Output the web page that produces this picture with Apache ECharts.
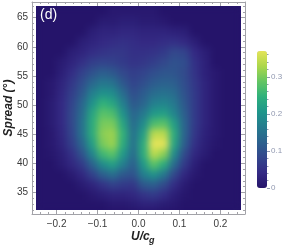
<!DOCTYPE html>
<html><head><meta charset="utf-8">
<script src="https://cdn.jsdelivr.net/npm/echarts@6/dist/echarts.min.js"></script>
<style>
html,body{margin:0;padding:0;background:#fff;}
#root{position:relative;width:286px;height:249px;overflow:hidden;}
#heatClip{position:absolute;left:36px;top:6px;width:205px;height:204px;overflow:hidden;}
#heat{position:absolute;left:0;top:0;width:205px;height:204px;filter:blur(3.5px);}
#axes{position:absolute;left:0;top:0;width:286px;height:249px;}
</style></head><body>
<div id="root"><div id="heatClip"><div id="heat"></div></div><div id="axes"></div></div>
<script>
// U/c_g cell centres
const uCenters = [-0.2375,-0.2125,-0.1875,-0.1625,-0.1375,-0.1125,-0.0875,-0.0625,-0.0375,-0.0125,
                   0.0125, 0.0375, 0.0625, 0.0875, 0.1125, 0.1375, 0.1625, 0.1875, 0.2125, 0.2375];
// Spread cell centres (deg), bottom to top
const spreadCenters = [32.875,34.625,36.375,38.125,39.875,41.625,43.375,45.125,46.875,48.625,
                       50.375,52.125,53.875,55.625,57.375,59.125,60.875,62.625,64.375,66.125];
// density, one row per spread centre (bottom to top), one value per U/c_g centre
const density = [
 [0,0,0,0,0,0,0,0.01,0.01,0.015,0.025,0.025,0.015,0.01,0,0,0,0,0,0],
 [0,0,0,0,0,0.01,0.02,0.03,0.03,0.035,0.055,0.065,0.045,0.02,0.005,0,0,0,0,0],
 [0,0,0,0,0.015,0.03,0.055,0.075,0.065,0.06,0.11,0.12,0.09,0.045,0.015,0,0,0,0,0],
 [0,0,0,0.015,0.035,0.075,0.12,0.145,0.11,0.1,0.17,0.2,0.16,0.085,0.035,0.01,0,0,0,0],
 [0,0,0.015,0.035,0.065,0.125,0.19,0.22,0.17,0.12,0.21,0.28,0.24,0.14,0.065,0.02,0,0,0,0],
 [0,0.005,0.02,0.05,0.1,0.18,0.26,0.28,0.21,0.14,0.24,0.34,0.31,0.19,0.09,0.035,0.015,0,0,0],
 [0,0.01,0.03,0.07,0.13,0.22,0.3,0.32,0.24,0.15,0.24,0.37,0.37,0.23,0.12,0.05,0.02,0.005,0,0],
 [0,0.01,0.035,0.08,0.15,0.24,0.31,0.32,0.25,0.15,0.22,0.34,0.34,0.24,0.13,0.06,0.025,0.01,0,0],
 [0,0.015,0.04,0.085,0.15,0.24,0.3,0.3,0.23,0.14,0.19,0.27,0.28,0.22,0.13,0.065,0.03,0.01,0,0],
 [0,0.015,0.04,0.085,0.14,0.23,0.28,0.27,0.2,0.13,0.16,0.21,0.22,0.18,0.12,0.065,0.03,0.01,0,0],
 [0,0.015,0.04,0.08,0.13,0.2,0.25,0.23,0.17,0.11,0.13,0.17,0.18,0.16,0.11,0.065,0.03,0.01,0,0],
 [0,0.01,0.035,0.07,0.11,0.17,0.2,0.19,0.14,0.095,0.115,0.14,0.15,0.14,0.1,0.065,0.03,0.01,0,0],
 [0,0.01,0.03,0.06,0.095,0.135,0.16,0.15,0.11,0.08,0.095,0.115,0.125,0.12,0.095,0.06,0.03,0.01,0,0],
 [0,0,0.02,0.045,0.075,0.1,0.12,0.11,0.085,0.07,0.08,0.095,0.105,0.105,0.09,0.055,0.025,0.01,0,0],
 [0,0,0.015,0.03,0.05,0.07,0.08,0.075,0.065,0.055,0.06,0.07,0.085,0.1,0.095,0.05,0.025,0,0,0],
 [0,0,0,0.02,0.03,0.045,0.055,0.06,0.06,0.05,0.05,0.055,0.065,0.085,0.08,0.04,0.02,0,0,0],
 [0,0,0,0,0.02,0.03,0.04,0.045,0.05,0.045,0.04,0.04,0.045,0.05,0.04,0.02,0,0,0,0],
 [0,0,0,0,0,0.02,0.03,0.03,0.035,0.035,0.03,0.03,0.03,0.025,0.02,0,0,0,0,0],
 [0,0,0,0,0,0,0.015,0.015,0.02,0.02,0.015,0.015,0.01,0,0,0,0,0,0,0],
 [0,0,0,0,0,0,0,0.01,0.01,0.01,0.01,0.01,0,0,0,0,0,0,0,0]
];
const xMajor = [-0.2,-0.1,0,0.1,0.2];
const xMinor = [-0.24,-0.22,-0.18,-0.16,-0.14,-0.12,-0.08,-0.06,-0.04,-0.02,0.02,0.04,0.06,0.08,0.12,0.14,0.16,0.18,0.22,0.24];
const yMajor = [35,40,45,50,55,60,65];
const yMinor = [32,33,34,36,37,38,39,41,42,43,44,46,47,48,49,51,52,53,54,56,57,58,59,61,62,63,64,66,67];
const cbMajor = [0,0.1,0.2,0.3];
const cbMinor = [0.02,0.04,0.06,0.08,0.12,0.14,0.16,0.18,0.22,0.24,0.26,0.28,0.32,0.34,0.36];
const densityMax = 0.37;

const palette = ['#25146a','#342a84','#33468c','#2c618e','#257b8e','#1f968b','#2eb07c','#64c663','#acd74b','#e4e459'];
document.getElementById('heatClip').style.background = palette[0];

const heatData = [];
density.forEach((row, j) => row.forEach((v, i) => heatData.push([i, j, v])));

const heat = echarts.init(document.getElementById('heat'), null, {renderer:'canvas'});
heat.setOption({
  animation:false,
  backgroundColor: palette[0],
  grid:{left:0,right:0,top:0,bottom:0},
  xAxis:{type:'category', data:uCenters, show:false},
  yAxis:{type:'category', data:spreadCenters, show:false},
  visualMap:{show:false, min:0, max:densityMax, inRange:{color:palette}},
  series:[{type:'heatmap', data:heatData, itemStyle:{borderWidth:0}}]
});

const frameColor = '#a2a2a8';
const font = 'Liberation Sans, Arial, sans-serif';
const fmt = v => (v < 0 ? '\u2212' : '') + Math.abs(v).toFixed(1);
function xa(pos, ticks, len, line, label){
  return {gridIndex:0, type:'value', position:pos, min:-0.26, max:0.26,
    axisLine:{show:line, onZero:false, lineStyle:{color:frameColor, width:1}},
    axisTick:{show:true, inside:true, length:len, customValues:ticks, lineStyle:{color:frameColor}},
    axisLabel:{show:label, customValues:ticks, formatter:fmt, color:'#3a3a3a', fontSize:10, fontFamily:font, margin:5},
    splitLine:{show:false}};
}
function ya(pos, ticks, len, line, label){
  return {gridIndex:0, type:'value', position:pos, min:31.32, max:67.68,
    axisLine:{show:line, onZero:false, lineStyle:{color:frameColor, width:1}},
    axisTick:{show:true, inside:true, length:len, customValues:ticks, lineStyle:{color:frameColor}},
    axisLabel:{show:label, customValues:ticks, color:'#3a3a3a', fontSize:10, fontFamily:font, margin:4},
    splitLine:{show:false}};
}
const cbColor = '#9098b0';
const axes = echarts.init(document.getElementById('axes'), null, {renderer:'canvas'});
axes.setOption({
  animation:false,
  grid:[{left:32,right:41,top:2,bottom:35},{left:257,top:51,width:10,height:137}],
  xAxis:[xa('bottom',xMajor,4,true,true), xa('bottom',xMinor,2,false,false),
         xa('top',xMajor,4,true,false), xa('top',xMinor,2,false,false),
         {gridIndex:1, type:'value', show:false, min:0, max:1}],
  yAxis:[ya('left',yMajor,4,true,true), ya('left',yMinor,2,false,false),
         ya('right',yMajor,4,true,false), ya('right',yMinor,2,false,false),
         {gridIndex:1, type:'value', position:'right', min:0, max:densityMax,
          axisLine:{show:false, onZero:false},
          axisTick:{show:true, length:3, customValues:cbMajor, lineStyle:{color:cbColor}},
          axisLabel:{show:true, customValues:cbMajor, formatter:v=> v===0?'0':v.toFixed(1), color:cbColor, fontSize:8, fontFamily:font, margin:4},
          splitLine:{show:false}},
         {gridIndex:1, type:'value', position:'right', min:0, max:densityMax,
          axisLine:{show:false, onZero:false},
          axisTick:{show:true, length:1.5, customValues:cbMinor, lineStyle:{color:cbColor}},
          axisLabel:{show:false}, splitLine:{show:false}}],
  visualMap:{type:'continuous', min:0, max:densityMax, show:true, seriesIndex:0, calculable:false,
    orient:'vertical', left:257, top:51, itemWidth:10, itemHeight:137, padding:0, text:null,
    inRange:{color:palette}},
  series:[{type:'scatter', xAxisIndex:0, yAxisIndex:0, data:[]}],
  graphic:[
    {type:'text', left:40, top:8, style:{text:'(d)', fill:'#ffffff', font:'14px '+font}},
    {type:'text', x:9, y:108, rotation:Math.PI/2, style:{text:'Spread (°)', fill:'#222', font:'italic bold 12px '+font, align:'center', verticalAlign:'middle'}},
    {type:'text', x:131, y:237, style:{text:'U/c', fill:'#222', font:'italic bold 12px '+font, align:'left', verticalAlign:'middle'}},
    {type:'text', x:149, y:241, style:{text:'g', fill:'#222', font:'italic bold 9px '+font, align:'left', verticalAlign:'middle'}}
  ]
});
</script>
</body></html>
